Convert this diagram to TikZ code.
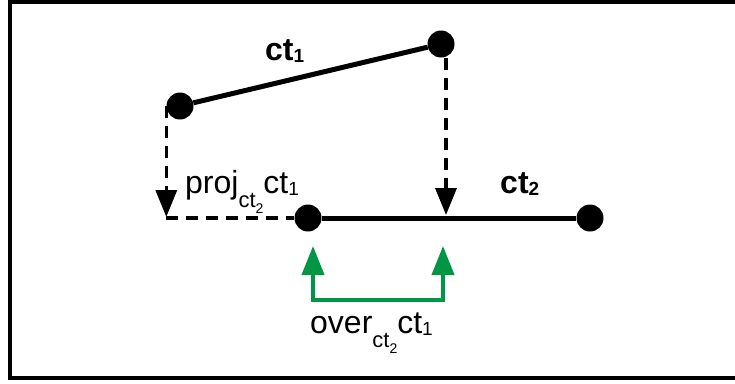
\documentclass[tikz,border=0pt]{standalone}
\usepackage{fontspec}
\setmainfont{Liberation Sans}
\usetikzlibrary{arrows.meta}

\definecolor{overgreen}{RGB}{0,150,70}
\newcommand{\lowsub}[3]{\raisebox{-#1}{\fontsize{#2}{#2}\selectfont #3}}

\tikzset{
    endpt/.style={circle, fill=black, inner sep=0pt, minimum size=27pt},
    segm/.style={line width=5pt},
    projline/.style={line width=3.5pt, dash pattern=on 12pt off 8pt},
    projarrow/.style={projline, -{Triangle[length=27pt,width=21pt]}},
    overarrow/.style={draw=overgreen, line width=4pt,
        {Triangle[length=29pt,width=22pt]}-{Triangle[length=29pt,width=22pt]}, overgreen},
    lbl/.style={anchor=base west, inner sep=0pt, font=\fontsize{32}{32}\selectfont},
    lblb/.style={lbl, font=\fontsize{32}{32}\selectfont\bfseries},
}

\begin{document}
\begin{tikzpicture}[x=1pt, y=-1pt] % overlap of ct1 projected on ct2
    \useasboundingbox (0,0) rectangle (735,383);
    \draw[line width=4pt] (735,1.5) -| (9.5,378) -- (735,378);

    \node[endpt] (a) at (180,106) {};
    \node[endpt] (b) at (441,44) {};
    \node[endpt] (c) at (308,218) {};
    \node[endpt] (d) at (590,218) {};
    \coordinate (foota) at (a.west |- c);
    \coordinate (footb) at (446,218);
    \coordinate (ovl) at (313,246);
    \coordinate (ovr) at (443,246);
    \coordinate (ovbase) at (0,300);

    \draw[segm] (a) -- (b);
    \draw[segm] (c) -- (d);

    \draw[projarrow, shorten >=1pt] (a.west) -- (foota);
    \draw[projline] (foota) -- (c);
    \draw[projarrow, shorten >=3pt] (footb |- b.south) -- (footb);

    \draw[overarrow] (ovl) -- (ovl |- ovbase) -- (ovr |- ovbase) -- (ovr);

    \node[lblb] (ct1) at (265,60) {ct\lowsub{2pt}{19}{1}};
    \node[lblb] (ct2) at (500,193) {ct\lowsub{2pt}{19}{2}};
    \node[lbl] (proj) at (185,193) {proj\lowsub{14pt}{22}{ct\lowsub{6pt}{14}{2}}ct\lowsub{2pt}{19}{1}};
    \node[lbl] (over) at (310,333) {over\lowsub{14pt}{22}{ct\lowsub{6pt}{14}{2}}ct\lowsub{2pt}{19}{1}};
\end{tikzpicture}
\end{document}
